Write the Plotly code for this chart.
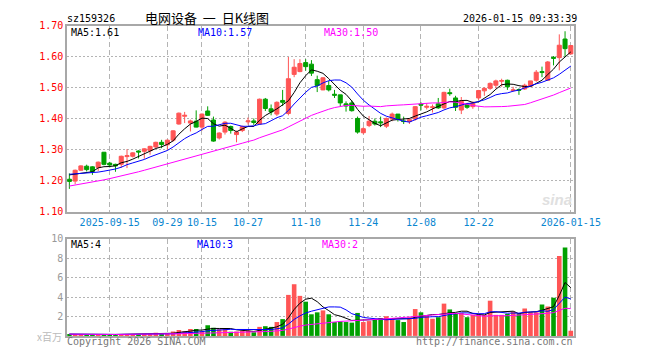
import plotly.graph_objects as go
import pandas as pd

# ---------------- data ----------------
holidays = ["2025-10-01", "2025-10-02", "2025-10-03", "2025-10-06", "2025-10-07",
            "2025-10-08", "2026-01-01", "2026-01-02"]
dates = [d.strftime("%Y-%m-%d") for d in pd.bdate_range("2025-09-04", "2026-01-15")
         if d.strftime("%Y-%m-%d") not in holidays]

opens = [1.205, 1.199, 1.234, 1.247, 1.245, 1.243, 1.292, 1.257, 1.253, 1.253,
         1.278, 1.279, 1.296, 1.295, 1.297, 1.309, 1.324, 1.316, 1.331, 1.383,
         1.408, 1.386, 1.392, 1.373, 1.425, 1.396, 1.338, 1.357, 1.375, 1.349,
         1.362, 1.390, 1.393, 1.383, 1.463, 1.432, 1.415, 1.459, 1.417, 1.543,
         1.552, 1.581, 1.576, 1.526, 1.493, 1.507, 1.479, 1.477, 1.448, 1.451,
         1.401, 1.355, 1.378, 1.392, 1.390, 1.376, 1.399, 1.415, 1.393, 1.391,
         1.399, 1.447, 1.437, 1.437, 1.448, 1.435, 1.484, 1.467, 1.428, 1.446,
         1.439, 1.467, 1.490, 1.498, 1.508, 1.521, 1.524, 1.491, 1.494, 1.496,
         1.505, 1.524, 1.552, 1.524, 1.598, 1.597, 1.657, 1.609]
highs = [1.224, 1.236, 1.250, 1.252, 1.247, 1.262, 1.293, 1.261, 1.255, 1.281,
         1.302, 1.292, 1.298, 1.305, 1.313, 1.326, 1.332, 1.333, 1.363, 1.420,
         1.422, 1.397, 1.427, 1.417, 1.440, 1.407, 1.356, 1.392, 1.378, 1.362,
         1.378, 1.404, 1.401, 1.465, 1.467, 1.446, 1.456, 1.493, 1.599, 1.592,
         1.592, 1.592, 1.589, 1.539, 1.534, 1.522, 1.493, 1.477, 1.456, 1.459,
         1.407, 1.373, 1.409, 1.401, 1.407, 1.404, 1.420, 1.415, 1.407, 1.401,
         1.441, 1.453, 1.449, 1.446, 1.467, 1.487, 1.497, 1.474, 1.470, 1.451,
         1.456, 1.493, 1.501, 1.517, 1.526, 1.529, 1.526, 1.503, 1.498, 1.513,
         1.522, 1.557, 1.568, 1.586, 1.602, 1.672, 1.682, 1.637]
lows = [1.174, 1.189, 1.232, 1.230, 1.219, 1.231, 1.250, 1.243, 1.229, 1.242,
        1.241, 1.275, 1.272, 1.271, 1.284, 1.305, 1.305, 1.300, 1.326, 1.381,
        1.386, 1.359, 1.372, 1.362, 1.409, 1.326, 1.333, 1.349, 1.352, 1.324,
        1.357, 1.381, 1.380, 1.380, 1.425, 1.411, 1.409, 1.441, 1.411, 1.534,
        1.550, 1.555, 1.538, 1.486, 1.492, 1.488, 1.467, 1.441, 1.423, 1.423,
        1.352, 1.350, 1.373, 1.378, 1.373, 1.370, 1.392, 1.391, 1.383, 1.383,
        1.394, 1.427, 1.430, 1.420, 1.432, 1.432, 1.474, 1.425, 1.415, 1.432,
        1.432, 1.461, 1.474, 1.493, 1.498, 1.503, 1.493, 1.487, 1.477, 1.493,
        1.503, 1.519, 1.534, 1.524, 1.572, 1.556, 1.600, 1.607]
closes = [1.198, 1.234, 1.248, 1.236, 1.230, 1.260, 1.253, 1.251, 1.248, 1.279,
          1.281, 1.290, 1.293, 1.303, 1.311, 1.324, 1.317, 1.331, 1.361, 1.418,
          1.411, 1.393, 1.373, 1.415, 1.411, 1.328, 1.354, 1.389, 1.362, 1.357,
          1.375, 1.393, 1.388, 1.463, 1.433, 1.422, 1.453, 1.453, 1.529, 1.566,
          1.578, 1.568, 1.547, 1.507, 1.532, 1.493, 1.476, 1.451, 1.441, 1.426,
          1.357, 1.368, 1.392, 1.383, 1.387, 1.401, 1.415, 1.401, 1.391, 1.397,
          1.439, 1.444, 1.440, 1.438, 1.435, 1.485, 1.481, 1.437, 1.456, 1.437,
          1.451, 1.491, 1.498, 1.514, 1.522, 1.523, 1.503, 1.493, 1.492, 1.508,
          1.522, 1.550, 1.549, 1.583, 1.595, 1.637, 1.626, 1.636]
# volume, millions of shares
volumes = [0.18, 0.15, 0.12, 0.15, 0.12, 0.15, 0.20, 0.15, 0.12, 0.18,
           0.20, 0.15, 0.12, 0.15, 0.18, 0.32, 0.20, 0.22, 0.45, 0.62,
           0.48, 0.70, 0.70, 0.50, 1.10, 0.85, 0.68, 0.75, 0.42, 0.45,
           0.50, 0.55, 0.38, 0.93, 1.00, 0.93, 1.43, 1.73, 4.23, 5.33,
           4.13, 3.53, 2.23, 2.43, 2.63, 2.23, 1.43, 1.50, 1.43, 1.37,
           2.37, 1.43, 1.53, 1.70, 1.83, 2.03, 1.83, 1.63, 1.43, 1.93,
           2.77, 2.43, 2.13, 1.77, 1.93, 3.33, 2.73, 2.37, 2.37, 1.93,
           2.17, 2.17, 2.17, 3.63, 2.17, 2.17, 2.27, 2.50, 2.30, 2.83,
           2.43, 2.43, 3.23, 3.03, 3.93, 8.23, 9.13, 0.53]

ma5_head = [1.219, 1.221, 1.224, 1.226]
ma10_head = [1.221, 1.222, 1.224, 1.225, 1.226, 1.228, 1.231, 1.234, 1.238]
ma30_head = [1.183, 1.186, 1.189, 1.192, 1.195, 1.199, 1.203, 1.207, 1.211, 1.215,
             1.219, 1.224, 1.229, 1.234, 1.239, 1.244, 1.249, 1.254, 1.259, 1.264,
             1.269, 1.274, 1.279, 1.284, 1.290, 1.295, 1.300, 1.305, 1.310]

tick_dates = ["2025-09-15", "2025-09-29", "2025-10-15", "2025-10-27", "2025-11-10",
              "2025-11-24", "2025-12-08", "2025-12-22", "2026-01-15"]
tick_text = ["2025-09-15", "09-29", "10-15", "10-27", "11-10", "11-24", "12-08",
             "12-22", "2026-01-15"]
price_ticks = [1.10, 1.20, 1.30, 1.40, 1.50, 1.60, 1.70]
vol_ticks = [2, 4, 6, 8, 10]

# ---------------- derived ----------------
cs = pd.Series(closes)
def ma_with_head(n, head):
    s = cs.rolling(n).mean().tolist()
    return head + s[len(head):]

ma5 = ma_with_head(5, ma5_head)
ma10 = ma_with_head(10, ma10_head)
ma30 = ma_with_head(30, ma30_head)

vs = pd.Series(volumes)
vma5 = vs.rolling(5, min_periods=1).mean().tolist()
vma10 = vs.rolling(10, min_periods=1).mean().tolist()
vma30 = vs.rolling(30, min_periods=1).mean().tolist()

RED = "#ff5555"
GREEN = "#00a000"
vol_colors = [RED if c >= o else GREEN for o, c in zip(opens, closes)]

W, H = 660, 360
def px(x):
    return x / W
def py(y):
    return 1 - y / H

L, R = 70, 598
MT, MB = 20.3, 212.3
VT, VB = 240.3, 340.3
MONO = "DejaVu Sans Mono"
GRID = "#b4b4b4"
FRAME = "#a8a8a8"

fig = go.Figure()
fig.add_trace(go.Candlestick(
    x=dates, open=opens, high=highs, low=lows, close=closes,
    increasing=dict(line=dict(color=RED, width=1), fillcolor=RED),
    decreasing=dict(line=dict(color=GREEN, width=1), fillcolor=GREEN),
    xaxis="x", yaxis="y", hoverinfo="skip"))
for vals, col in [(ma5, "#000000"), (ma10, "#0000ff"), (ma30, "#ff00ff")]:
    fig.add_trace(go.Scatter(x=dates, y=vals, mode="lines",
                             line=dict(color=col, width=1), xaxis="x", yaxis="y",
                             hoverinfo="skip"))

fig.add_trace(go.Bar(x=dates, y=volumes, marker=dict(color=vol_colors, line=dict(width=0)),
                     width=0.8, xaxis="x2", yaxis="y2", hoverinfo="skip"))
for vals, col in [(vma5, "#000000"), (vma10, "#0000ff"), (vma30, "#ff00ff")]:
    fig.add_trace(go.Scatter(x=dates, y=vals, mode="lines",
                             line=dict(color=col, width=1), xaxis="x2", yaxis="y2",
                             hoverinfo="skip"))

xr = [-0.37, len(dates) - 1 + 0.63]
common_x = dict(type="category", range=xr, tickvals=tick_dates, ticktext=tick_text,
                showgrid=True, gridcolor=GRID, griddash="5px,3px", gridwidth=1,
                showline=True, mirror=True, linecolor=FRAME, linewidth=2,
                ticks="", zeroline=False, fixedrange=True,
                categoryorder="array", categoryarray=dates)

fig.update_layout(
    width=W, height=H, margin=dict(l=0, r=0, t=0, b=0),
    paper_bgcolor="white", plot_bgcolor="white", showlegend=False,
    boxgap=0.3, boxgroupgap=0,
    xaxis=dict(domain=[px(L), px(R)], anchor="y",
               tickfont=dict(family=MONO, size=10, color="#0a86d0"),
               rangeslider=dict(visible=False), **common_x),
    yaxis=dict(domain=[py(MB), py(MT)], anchor="x", range=[1.10, 1.70],
               tickvals=price_ticks, ticktext=[f"{v:.2f}" for v in price_ticks],
               tickfont=dict(family=MONO, size=10, color="#ff0000"),
               showgrid=True, gridcolor=GRID, griddash="2px,2px", gridwidth=1,
               showline=True, mirror=True, linecolor=FRAME, linewidth=2,
               ticks="", zeroline=False, fixedrange=True),
    xaxis2=dict(domain=[px(L), px(R)], anchor="y2", showticklabels=False,
                rangeslider=dict(visible=False), **common_x),
    yaxis2=dict(domain=[py(VB), py(VT)], anchor="x2", range=[0, 10],
                tickvals=vol_ticks, ticktext=[str(v) for v in vol_ticks],
                tickfont=dict(family=MONO, size=10, color="#999999"),
                showgrid=True, gridcolor=GRID, griddash="2px,2px", gridwidth=1,
                showline=True, mirror=True, linecolor=FRAME, linewidth=2,
                ticks="", zeroline=False, fixedrange=True),
)

def ann(text, x, y, color="#000000", size=10, xanchor="left", family=MONO, **kw):
    fig.add_annotation(text=text, x=px(x), y=py(y), xref="paper", yref="paper",
                       xanchor=xanchor, yanchor="middle", showarrow=False, borderpad=0,
                       font=dict(family=family, size=size, color=color), **kw)

ann("sz159326", 69, 12.5)
ann("电网设备&nbsp;&nbsp;一&nbsp;&nbsp;日K线图", 150, 11.5, size=13, xanchor="left",
    family="Noto Sans CJK SC")
ann("2026-01-15 09:33:39", 602, 12.5, xanchor="right")
ann("MA5:1.61", 73, 27.5)
ann("MA10:1.57", 205, 27.5, color="#0000ff")
ann("MA30:1.50", 336, 27.5, color="#ff00ff")
ann("MA5:4", 73, 246.5)
ann("MA10:3", 204, 246.5, color="#0000ff")
ann("MA30:2", 334, 246.5, color="#ff00ff")
ann("x百万", 66, 341, color="#bbbbbb", xanchor="right", family="Noto Sans CJK SC", size=10)
ann("Copyright 2026 SINA.COM", 69, 346.5, color="#777777")
ann("http://finance.sina.com.cn", 598, 346.5, color="#777777", xanchor="right")
ann("<i><b>sina</b></i>", 596, 200, color="#e0e0e0", size=15, xanchor="right",
    family="Liberation Sans")

fig.write_html("out.html")
